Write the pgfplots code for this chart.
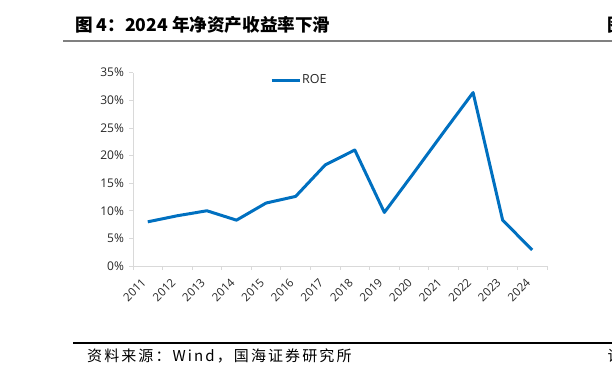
\documentclass[border=0pt]{standalone}
\usepackage{pgfplots}
\pgfplotsset{compat=1.18}
\usepackage{fontspec}
\setmainfont{Open Sans}
\newfontfamily\cjk{Noto Sans CJK SC}
\newfontfamily\cjkfoot[LetterSpace=14]{Noto Sans CJK SC}
\definecolor{roe}{HTML}{0070C0}
\definecolor{axgray}{HTML}{D9D9D9}
\begin{document}
\begin{tikzpicture}[x=1pt,y=1pt]
\useasboundingbox (0,0) rectangle (612,379);
\node[anchor=west, font=\cjk\bfseries\fontsize{17.6}{20}\selectfont, inner sep=0] at (75,354) {图 4：2024 年净资产收益率下滑};
\begin{scope}
\clip (0,0) rectangle (612,379);
\node[anchor=west, font=\cjk\bfseries\fontsize{17.6}{20}\selectfont, inner sep=0] at (607,354) {图};
\node[anchor=west, font=\cjk\fontsize{15}{16}\selectfont, inner sep=0] at (607.5,23) {请};
\end{scope}
\draw[line width=1.8pt, color=black!50] (63,338.3) -- (612,338.3);
\draw[line width=1.2pt, black] (73,36) -- (612,36);
\node[anchor=west, font=\cjkfoot\fontsize{15}{16}\selectfont, inner sep=0] at (87,23) {资料来源：Wind，国海证券研究所};
\begin{axis}[
  at={(133pt,113pt)}, anchor=south west,
  width=414pt, height=193.3pt, scale only axis,
  xmin=-0.5, xmax=13.5, ymin=0, ymax=35,
  axis x line*=bottom, axis y line*=left,
  axis line style={draw=axgray, line width=0.8pt, -},
  tick style={draw=axgray, line width=0.8pt},
  tick align=outside, major tick length=4pt,
  ytick={0,5,...,35},
  yticklabel={\pgfmathprintnumber{\tick}\%},
  yticklabel style={font=\fontsize{12}{14}\selectfont, xshift=-1.5pt},
  xtick={-0.5,0.5,...,13.5},
  x tick label as interval=true,
  xticklabels={2011,2012,2013,2014,2015,2016,2017,2018,2019,2020,2021,2022,2023,2024},
  xticklabel style={xshift=-1.5pt, yshift=-8pt, rotate=45, anchor=east, font=\fontsize{11.5}{13}\selectfont},
  ticklabel style={text=black!85},
  /pgf/number format/assume math mode=true,
  legend style={at={(0.331,0.962)}, anchor=west, draw=none, fill=none, inner sep=0pt, font=\fontsize{12.5}{14}\selectfont, text=black!85, nodes={inner xsep=1pt}},
  legend image code/.code={\draw[#1, line width=3pt] (0pt,0pt) -- (28pt,0pt);},
  clip=false,
]
\addplot[color=roe, line width=3pt, line join=round, mark=none] coordinates {
(0,8.0) (1,9.1) (2,10.0) (3,8.3) (4,11.4) (5,12.6) (6,18.3) (7,21.0) (8,9.7) (9,16.9) (10,24.2) (11,31.4) (12,8.3) (13,2.9)
};
\addlegendentry{ROE}
\end{axis}
\end{tikzpicture}
\end{document}
